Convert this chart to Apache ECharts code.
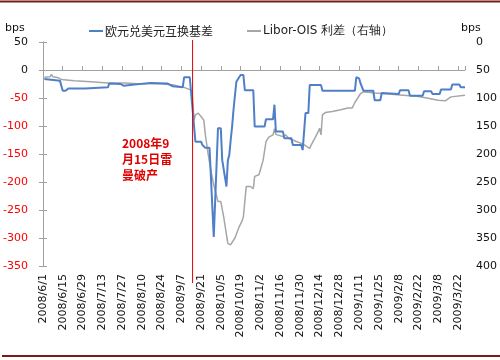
<!DOCTYPE html>
<html>
<head>
<meta charset="utf-8">
<script src="https://cdn.jsdelivr.net/npm/echarts@6/dist/echarts.min.js"></script>
<style>html,body{margin:0;padding:0;background:#fff;}#c{width:500px;height:360px;}</style>
</head>
<body>
<div id="c"></div>
<script>
// ---- data ----
const seriesNames = ['欧元兑美元互换基差', 'Libor-OIS 利差（右轴）'];
const xTickLabels = ['2008/6/1','2008/6/15','2008/6/29','2008/7/13','2008/7/27','2008/8/10','2008/8/24','2008/9/7','2008/9/21','2008/10/5','2008/10/19','2008/11/2','2008/11/16','2008/11/30','2008/12/14','2008/12/28','2009/1/11','2009/1/25','2009/2/8','2009/2/22','2009/3/8','2009/3/22'];
const axisUnit = 'bps';
const axisStart = '2008-06-01';
const axisEnd = '2009-03-27';
const eventDate = '2008-09-15';
const eventText = '2008年9\n月15日雷\n曼破产';

const basisDates = ['2008-06-02','2008-06-13','2008-06-14','2008-06-15','2008-06-17','2008-06-19','2008-07-01','2008-07-17','2008-07-18','2008-07-26','2008-07-28','2008-07-29','2008-08-16','2008-08-28','2008-09-01','2008-09-08','2008-09-09','2008-09-13','2008-09-14','2008-09-17','2008-09-21','2008-09-22','2008-09-24','2008-09-27','2008-09-30','2008-10-03','2008-10-05','2008-10-06','2008-10-09','2008-10-10','2008-10-11','2008-10-12','2008-10-13','2008-10-14','2008-10-16','2008-10-17','2008-10-19','2008-10-21','2008-10-22','2008-10-28','2008-10-29','2008-11-05','2008-11-06','2008-11-11','2008-11-12','2008-11-13','2008-11-18','2008-11-19','2008-11-24','2008-11-25','2008-12-01','2008-12-02','2008-12-03','2008-12-04','2008-12-06','2008-12-07','2008-12-15','2008-12-16','2009-01-08','2009-01-09','2009-01-11','2009-01-12','2009-01-14','2009-01-21','2009-01-22','2009-01-26','2009-01-27','2009-02-08','2009-02-09','2009-02-15','2009-02-16','2009-02-25','2009-02-26','2009-03-03','2009-03-04','2009-03-09','2009-03-10','2009-03-17','2009-03-18','2009-03-23','2009-03-24','2009-03-27'];
const basisValues = [-16,-19,-20,-37,-37,-33,-33,-31,-24,-25,-28,-25,-23,-24,-29,-31,-13,-13,-16,-128,-128,-134,-139,-139,-298,-104,-104,-161,-208,-161,-152,-125,-101,-71,-21,-18,-9,-9,-36,-36,-101,-101,-88,-88,-62,-110,-110,-122,-122,-134,-134,-143,-143,-77,-77,-27,-27,-37,-37,-13,-15,-24,-37,-37,-54,-54,-41,-43,-36,-36,-46,-46,-38,-38,-43,-43,-35,-35,-26,-26,-31,-31];

const liborDates = ['2008-06-02','2008-06-06','2008-06-07','2008-06-08','2008-06-09','2008-06-10','2008-06-11','2008-06-12','2008-06-14','2008-06-23','2008-07-05','2008-07-17','2008-07-29','2008-08-10','2008-08-21','2008-09-02','2008-09-09','2008-09-14','2008-09-15','2008-09-16','2008-09-17','2008-09-19','2008-09-21','2008-09-23','2008-09-24','2008-09-26','2008-09-28','2008-09-30','2008-10-03','2008-10-05','2008-10-07','2008-10-10','2008-10-12','2008-10-15','2008-10-18','2008-10-20','2008-10-21','2008-10-23','2008-10-26','2008-10-28','2008-10-29','2008-11-01','2008-11-04','2008-11-06','2008-11-08','2008-11-11','2008-11-12','2008-11-13','2008-11-18','2008-11-20','2008-11-22','2008-11-25','2008-11-28','2008-12-02','2008-12-05','2008-12-07','2008-12-08','2008-12-11','2008-12-13','2008-12-14','2008-12-15','2008-12-16','2008-12-18','2008-12-23','2008-12-29','2009-01-03','2009-01-06','2009-01-08','2009-01-09','2009-01-12','2009-01-14','2009-01-22','2009-02-01','2009-02-11','2009-02-21','2009-02-28','2009-03-08','2009-03-13','2009-03-17','2009-03-27'];
const liborValues = [63,62,58,62,59,63,60,64,67,69,71,73,73,75,74,77,81,86,100,140,130,127,133,140,165,200,230,255,285,285,312,360,362,350,330,320,312,258,258,262,240,237,211,178,170,166,155,165,169,166,172,175,178,182,187,190,184,170,160,154,166,130,126,124,121,118,118,108,104,92,89,91,93,95,97,100,104,105,98,95];

// ---- helpers ----
const DAY = 86400000;
function toUTC(s){ const p = s.split('-').map(Number); return Date.UTC(p[0], p[1]-1, p[2]); }
function dayOf(s){ return Math.round((toUTC(s) - toUTC(axisStart)) / DAY); }

const TICK_STEP = 14;
const axisGray = '#A0A0A0';
const blue = '#4F7FC8';
const gray = '#A6A6A6';
const latin = '"DejaVu Sans", Verdana, sans-serif';
const cjk = '"Noto Sans CJK SC", sans-serif';

const chart = echarts.init(document.getElementById('c'), null, {renderer: 'canvas'});

const option = {
  animation: false,
  backgroundColor: '#fff',
  grid: {left: 41.7, right: 35, top: 42, bottom: 94, containLabel: false},
  legend: [
    {data: [seriesNames[0]], left: 84, top: 20, icon: 'rect', itemWidth: 14, itemHeight: 2, itemGap: 2,
     textStyle: {fontFamily: cjk, fontSize: 12, color: '#222', padding: [0, 0, 0, -3]}},
    {data: [seriesNames[1]], left: 242, top: 20, icon: 'rect', itemWidth: 14, itemHeight: 2, itemGap: 2,
     textStyle: {fontFamily: latin, fontSize: 12, color: '#222', padding: [0, 0, 0, -3]}}
  ],
  xAxis: [
    {type: 'value', min: 0, max: dayOf(axisEnd), interval: TICK_STEP, position: 'bottom',
     axisLine: {show: false}, axisTick: {show: false}, splitLine: {show: false},
     axisLabel: {rotate: 90, margin: 8, fontFamily: latin, fontSize: 11, color: '#111',
       showMaxLabel: false,
       formatter: function(v){ return (v % TICK_STEP === 0) ? (xTickLabels[v / TICK_STEP] || '') : ''; }}},
    {type: 'value', min: 0, max: dayOf(axisEnd), interval: TICK_STEP, position: 'top',
     axisLine: {show: true, onZero: true, onZeroAxisIndex: 0, lineStyle: {color: axisGray, width: 1}},
     axisTick: {show: true, length: 4, lineStyle: {color: axisGray}},
     axisLabel: {show: false}, splitLine: {show: false}}
  ],
  yAxis: [
    {type: 'value', min: -350, max: 50, interval: 50, position: 'left',
     axisLine: {show: true, lineStyle: {color: axisGray}},
     axisTick: {show: true, length: 4, lineStyle: {color: axisGray}},
     splitLine: {show: false},
     axisLabel: {margin: 15, fontFamily: latin, fontSize: 11,
       color: function(v){ return Number(v) < 0 ? '#FF0000' : '#111'; }}},
    {type: 'value', min: 0, max: 400, interval: 50, inverse: true, position: 'right',
     axisLine: {show: true, lineStyle: {color: axisGray}},
     axisTick: {show: true, length: 4, lineStyle: {color: axisGray}},
     splitLine: {show: false},
     axisLabel: {margin: 11, fontFamily: latin, fontSize: 11, color: '#111'}}
  ],
  series: [
    {name: seriesNames[1], type: 'line', xAxisIndex: 0, yAxisIndex: 1, showSymbol: false, symbol: 'none',
     data: liborDates.map((d, i) => [dayOf(d), liborValues[i]]),
     lineStyle: {color: gray, width: 1.5}, itemStyle: {color: gray}, z: 2},
    {name: seriesNames[0], type: 'line', xAxisIndex: 0, yAxisIndex: 0, showSymbol: false, symbol: 'none',
     data: basisDates.map((d, i) => [dayOf(d), basisValues[i]]),
     lineStyle: {color: blue, width: 2}, itemStyle: {color: blue}, z: 3}
  ]
};
chart.setOption(option);

const ex = chart.convertToPixel({xAxisIndex: 0}, dayOf(eventDate));
chart.setOption({
  graphic: [
    {type: 'line', shape: {x1: 0, y1: 1.5, x2: 500, y2: 1.5}, style: {stroke: '#771C1C', lineWidth: 2}, silent: true},
    {type: 'line', shape: {x1: 2, y1: 356, x2: 500, y2: 356}, style: {stroke: '#771C1C', lineWidth: 2}, silent: true},
    {type: 'text', left: 5, top: 23, silent: true,
     style: {text: axisUnit, fill: '#111', font: '11px "DejaVu Sans", Verdana, sans-serif'}},
    {type: 'text', left: 461, top: 23, silent: true,
     style: {text: axisUnit, fill: '#111', font: '11px "DejaVu Sans", Verdana, sans-serif'}},
    {type: 'line', shape: {x1: ex, y1: 40, x2: ex, y2: 283}, style: {stroke: '#E00000', lineWidth: 1}, z: 10, silent: true},
    {type: 'text', left: 122, top: 135, z: 10, silent: true,
     style: {text: eventText, fill: '#E00000', font: 'bold 12px "Noto Sans CJK SC", sans-serif', lineHeight: 16}}
  ]
});
</script>
</body>
</html>
